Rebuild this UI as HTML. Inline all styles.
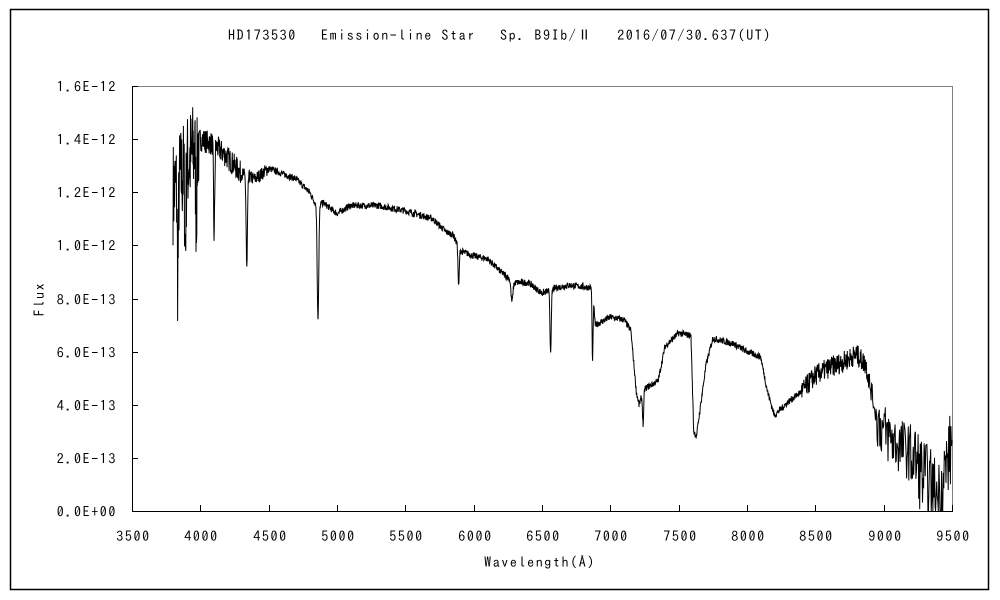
<!DOCTYPE html>
<html><head><meta charset="utf-8"><style>
body{margin:0;background:#fff;}
svg{display:block;font-family:"IPAGothic","Liberation Sans",sans-serif;}
text{letter-spacing:1.6px;}
</style></head><body>
<svg id="s" width="1000" height="600" xmlns="http://www.w3.org/2000/svg">
<rect x="10.5" y="9.5" width="978" height="580" fill="none" stroke="#000" stroke-width="1.5"/>
<text x="500" y="40" font-size="14" text-anchor="middle" fill="#000">HD173530　 Emission-line Star　 Sp. B9Ib/Ⅱ　 2016/07/30.637(UT)</text>
<rect x="132.5" y="86.5" width="820" height="425" fill="none" stroke="#808080" stroke-width="1"/>
<line x1="132.5" y1="86" x2="132.5" y2="512" stroke="#000"/>
<line x1="132" y1="511.5" x2="953" y2="511.5" stroke="#000"/>
<g id="ticks" stroke="#000"></g>
<g id="lab" font-size="14" fill="#000"></g>
<text x="540" y="567" font-size="14" text-anchor="middle">Wavelength(Å)</text>
<text x="44" y="299" font-size="14" text-anchor="middle" transform="rotate(-90 44 299)">Flux</text>
<polyline id="sp" fill="none" stroke="#000" stroke-width="1"/>
</svg>
<script>
var X=function(l){return 132+(l-3500)*820/6000};
var Y=function(f){return 511-f*425/16};
var t=document.getElementById('ticks'),lab=document.getElementById('lab'),ns="http://www.w3.org/2000/svg";
function el(n,a,p,txt){var e=document.createElementNS(ns,n);for(var k in a)e.setAttribute(k,a[k]);if(txt)e.textContent=txt;p.appendChild(e);}
for(var i=0;i<=8;i++){var y=Math.round(Y(i*2))+0.5;el('line',{x1:132,y1:y,x2:138,y2:y},t);
 var s=i==0?"0.0E+00":(i<5?(i*2)+".0E-13":((i*2/10).toFixed(1)+"E-12"));
 el('text',{x:117,y:y+5,'text-anchor':'end'},lab,s);}
for(var l=3500;l<=9500;l+=500){var x=Math.round(X(l))+0.5;el('line',{x1:x,y1:511,x2:x,y2:505},t);el('text',{x:x+1,y:541,'text-anchor':'middle'},lab,""+l);}
var c=[[3800,12],[3900,13],[4000,14],[4100,13.8],[4200,13.3],[4300,12.7],[4400,12.5],[4500,12.9],[4700,12.5],[4800,12],[4850,11.5],[4900,11.6],[5000,11.2],[5100,11.5],[5300,11.5],[5500,11.3],[5700,11],[5800,10.5],[5850,10.4],[5900,9.8],[6000,9.6],[6100,9.5],[6200,9],[6300,8.6],[6400,8.6],[6500,8.2],[6600,8.4],[6700,8.5],[6870,8.4],[6890,7.0],[7000,7.3],[7100,7.2],[7150,6.8],[7190,4.5],[7210,4.0],[7250,4.6],[7350,4.9],[7400,6.2],[7500,6.7],[7590,6.6],[7610,3.0],[7630,2.8],[7700,5.5],[7750,6.5],[7900,6.3],[8000,6.0],[8100,5.8],[8150,4.5],[8200,3.6],[8300,4.1],[8400,4.5],[8500,5.1],[8600,5.4],[8700,5.6],[8800,5.9],[8870,5.5],[8950,3.5],[9000,3.0],[9100,2.5],[9200,2.2],[9300,1.2],[9400,0.5],[9500,2.5]];
function cont(l){for(var i=0;i<c.length-1;i++)if(l<=c[i+1][0]){var a=c[i],b=c[i+1];return a[1]+(b[1]-a[1])*(l-a[0])/(b[0]-a[0]);}return 2.5;}
var dips=[[3835,3.5,6],[3890,3,6],[3970,2.5,6],[4101,3.5,6],[4340,3.5,7],[4861,4.3,8],[5890,1.5,6],[6280,0.8,10],[6563,2.3,7],[6870,2.8,5],[7240,1.2,6]];
var seed=7;function rnd(){seed=(seed*16807)%2147483647;return seed/2147483647-0.5;}
var pts=[];
for(var l=3800;l<=9500;l+=(l<8900?2:4)){var f=cont(l);
 for(var j=0;j<dips.length;j++){var d=dips[j];f-=d[1]*Math.exp(-Math.pow((l-d[0])/d[2],2));}
 var a=l<3990?4:(l<4300?0.9:(l<4500?0.5:(l<8400?0.25:(l<8950?0.8:(l<9200?2.2:3.0)))));
 f+=rnd()*a; if(f<0)f=0; pts.push(X(l).toFixed(1)+","+Y(f).toFixed(1));}
document.getElementById('sp').setAttribute('points',pts.join(' '));
</script>
</body></html>
